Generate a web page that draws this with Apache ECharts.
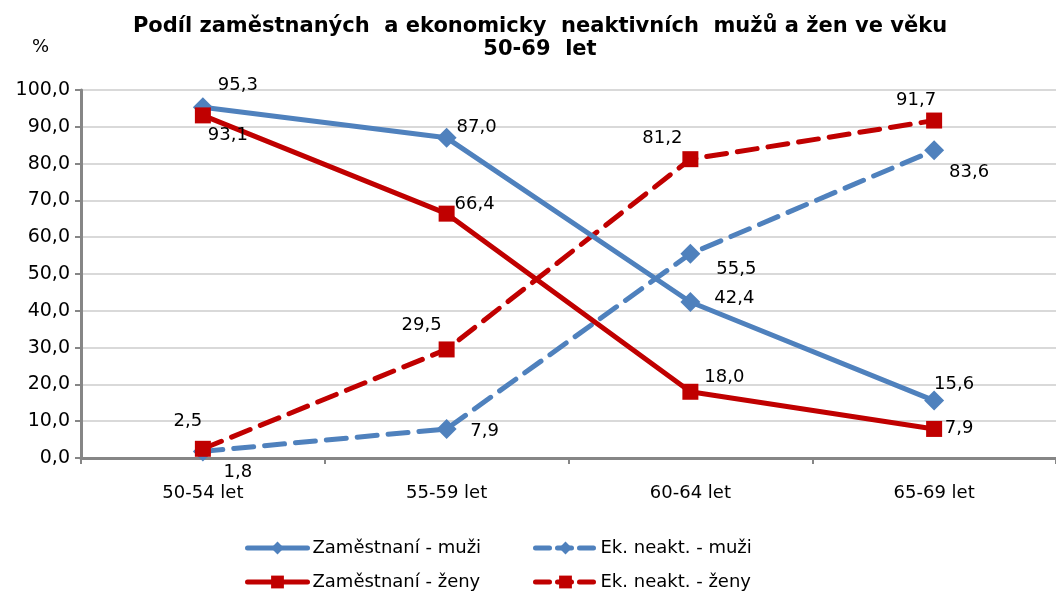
<!DOCTYPE html>
<html>
<head>
<meta charset="utf-8">
<script src="https://cdn.jsdelivr.net/npm/echarts@6/dist/echarts.min.js"></script>
<style>
  html, body { margin: 0; padding: 0; background: #fff; }
  #chart { width: 1056px; height: 592px; }
</style>
</head>
<body>
<div id="chart"></div>
<script>
const categories = ['50-54 let', '55-59 let', '60-64 let', '65-69 let']
const zamMuzi = [95.3, 87.0, 42.4, 15.6]
const zamZeny = [93.1, 66.4, 18.0, 7.9]
const ekMuzi = [1.8, 7.9, 55.5, 83.6]
const ekZeny = [2.5, 29.5, 81.2, 91.7]

// label offsets from point centre
const offZamMuzi = [[35, -22], [30, -11], [44, -4], [20, -16]]
const offZamZeny = [[25, 20], [28, -9], [34, -14], [25, -1]]
const offEkMuzi = [[35, 21], [38, 2], [46, 16], [35, 22]]
const offEkZeny = [[-15, -27], [-25, -24], [-28, -21], [-18, -20]]

const fmt = (v) => v.toFixed(1).replace('.', ',')
const font = 'DejaVu Sans, sans-serif'

function points(values, offsets) {
  return values.map((v, i) => ({
    value: v,
    label: { offset: offsets[i] }
  }))
}

function makeSeries(name, values, offsets, color, symbol, dashed) {
  return {
    name: name,
    type: 'line',
    data: points(values, offsets),
    symbol: symbol,
    symbolSize: symbol === 'diamond' ? 20 : 16,
    itemStyle: { color: color },
    lineStyle: {
      color: color,
      width: 5,
      type: dashed ? [20, 11] : 'solid',
      cap: 'round'
    },
    label: {
      show: true,
      position: 'inside',
      color: '#000',
      fontFamily: font,
      fontSize: 18,
      formatter: (p) => fmt(p.value)
    },
    z: dashed ? 2 : 3
  }
}

function legendAt(name, left, top, dashed) {
  return {
    left: left,
    top: top,
    itemWidth: 60,
    itemHeight: 16,
    itemGap: 6,
    lineStyle: { width: 5, type: dashed ? [14, 8] : 'solid' },
    textStyle: { fontFamily: font, fontSize: 18, color: '#000' },
    data: [name]
  }
}

const myChart = echarts.init(document.getElementById('chart'))
const option = {
  animation: false,
  backgroundColor: '#fff',
  title: {
    text: 'Podíl zaměstnaných  a ekonomicky  neaktivních  mužů a žen ve věku\n50-69  let',
    left: 535,
    textAlign: 'center',
    top: 10,
    textStyle: {
      fontFamily: font,
      fontSize: 21,
      fontWeight: 'bold',
      lineHeight: 23,
      color: '#000'
    }
  },
  graphic: [{
    type: 'text',
    left: 32,
    top: 38,
    style: { text: '%', fontFamily: font, fontSize: 18, fill: '#000' }
  }],
  legend: [
    legendAt('Zaměstnaní - muži', 240, 534, false),
    legendAt('Zaměstnaní - ženy', 240, 568, false),
    legendAt('Ek. neakt. - muži', 528, 534, true),
    legendAt('Ek. neakt. - ženy', 528, 568, true)
  ],
  grid: {
    left: 81,
    right: -7,
    top: 90,
    bottom: 134
  },
  xAxis: {
    type: 'category',
    data: categories,
    axisLine: { lineStyle: { color: '#868686', width: 3 } },
    axisTick: { show: true, length: 6, lineStyle: { color: '#868686', width: 2 } },
    axisLabel: { color: '#000', fontFamily: font, fontSize: 18, margin: 26 },
    splitLine: { show: false }
  },
  yAxis: {
    type: 'value',
    min: 0,
    max: 100,
    interval: 10,
    axisLine: { show: true, lineStyle: { color: '#868686', width: 3 } },
    axisTick: { show: true, length: 6, lineStyle: { color: '#868686', width: 2 } },
    axisLabel: {
      color: '#000',
      fontFamily: font,
      fontSize: 19,
      margin: 11,
      formatter: (v) => fmt(v)
    },
    splitLine: { show: true, lineStyle: { color: '#d9d9d9', width: 2 } }
  },
  series: [
    makeSeries('Zaměstnaní - muži', zamMuzi, offZamMuzi, '#4F81BD', 'diamond', false),
    makeSeries('Ek. neakt. - muži', ekMuzi, offEkMuzi, '#4F81BD', 'diamond', true),
    makeSeries('Zaměstnaní - ženy', zamZeny, offZamZeny, '#C00000', 'rect', false),
    makeSeries('Ek. neakt. - ženy', ekZeny, offEkZeny, '#C00000', 'rect', true)
  ]
}
myChart.setOption(option)
</script>
</body>
</html>
